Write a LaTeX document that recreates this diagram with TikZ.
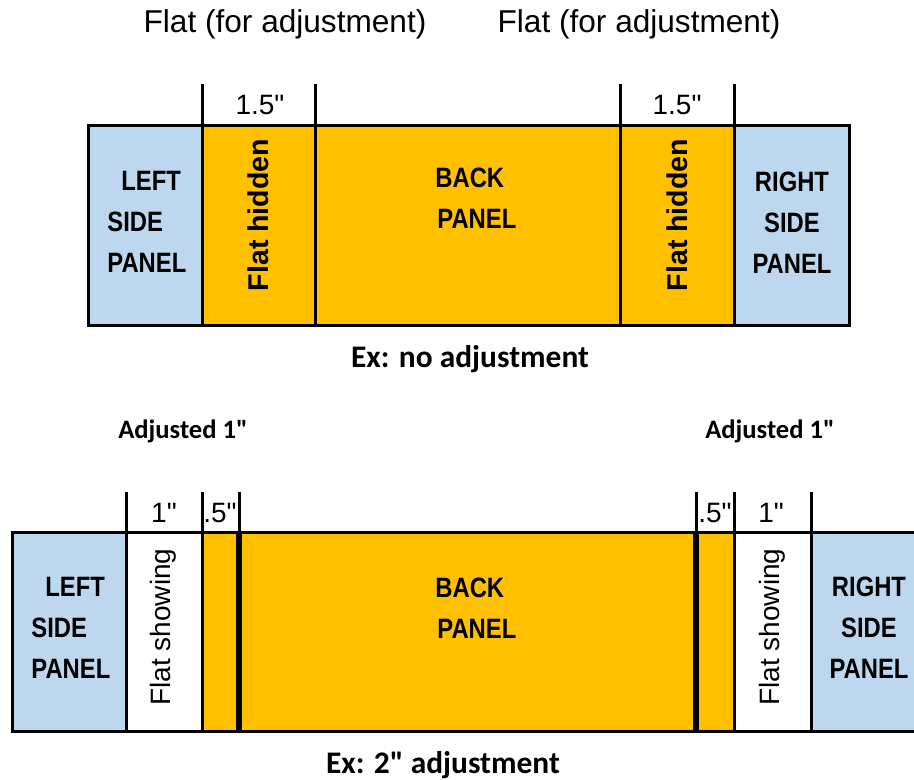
\documentclass[tikz,border=0pt]{standalone}
\usepackage{fontspec}
\newfontfamily\arial{Liberation Sans}
\newfontfamily\arialnarrow{Liberation Sans}[FakeStretch=0.85]
\newfontfamily\calibri{Carlito}
\definecolor{sideblue}{HTML}{BDD7EE}
\definecolor{flatorange}{HTML}{FFC000}
\tikzset{
  edge/.style={line width=1.5pt},
  thickedge/.style={line width=3pt},
  panelname/.style={font=\arialnarrow\bfseries\fontsize{14}{20.5}\selectfont, inner sep=0pt},
  dimlabel/.style={font=\arial\fontsize{14}{16}\selectfont, anchor=base, inner sep=0pt},
  flatlabel/.style={rotate=90, inner sep=0pt},
  caption/.style={font=\calibri\bfseries\fontsize{15.7}{18}\selectfont, anchor=base, inner sep=0pt},
}

\begin{document}
\begin{tikzpicture}[x=0.5pt, y=-0.5pt]
    \useasboundingbox (0,0) rectangle (914,780);

    % headings over the first example
    \node[font=\arial\fontsize{15.8}{18}\selectfont, anchor=base] (headl) at (285,33) {Flat (for adjustment)};
    \node[font=\arial\fontsize{15.8}{18}\selectfont, anchor=base] (headr) at (639,33) {Flat (for adjustment)};

    % first example: no adjustment
    \draw[edge, fill=sideblue] (88,126) rectangle (202,325);
    \draw[edge, fill=flatorange] (202,126) rectangle (315,325);
    \draw[edge, fill=flatorange] (315,126) rectangle (620,325);
    \draw[edge, fill=flatorange] (620,126) rectangle (734,325);
    \draw[edge, fill=sideblue] (734,126) rectangle (849,325);
    \foreach \x in {202,315,620,734}
        \draw[edge] (\x,84) -- (\x,126);

    \node[dimlabel] (dima1) at (260,115) {1.5"};
    \node[dimlabel] (dima2) at (677,115) {1.5"};

    \node[panelname, anchor=north west, align=left] (lefta) at (107,171) {\hspace*{7pt}LEFT\\SIDE\\PANEL};
    \node[panelname, anchor=north west, align=left] (backa) at (435,168) {BACK\\\hspace*{1pt}PANEL};
    \node[panelname, anchor=north, align=center] (righta) at (792,172) {RIGHT\\SIDE\\PANEL};
    \node[flatlabel, font=\arial\bfseries\fontsize{14.3}{16}\selectfont] (hida1) at (258,215) {Flat hidden};
    \node[flatlabel, font=\arial\bfseries\fontsize{14.3}{16}\selectfont] (hida2) at (677,215) {Flat hidden};

    \node[caption] (capa) at (470,367) {Ex: no adjustment};

    % second example: 2" adjustment
    \node[caption, font=\calibri\bfseries\fontsize{13.3}{15}\selectfont] (adjl) at (183,438) {Adjusted 1"};
    \node[caption, font=\calibri\bfseries\fontsize{13.3}{15}\selectfont] (adjr) at (770,438) {Adjusted 1"};

    \draw[edge, fill=sideblue] (12,532) rectangle (126,731);
    \draw[edge, fill=white] (126,532) rectangle (202,731);
    \draw[edge, fill=flatorange] (202,532) rectangle (239,731);
    \draw[edge, fill=flatorange] (239,532) rectangle (696,731);
    \draw[edge, fill=flatorange] (696,532) rectangle (734,731);
    \draw[edge, fill=white] (734,532) rectangle (811,731);
    \draw[edge, fill=sideblue] (811,532) rectangle (920,731);
    \draw[thickedge] (239,532) -- (239,731);
    \draw[thickedge] (696,532) -- (696,731);
    \foreach \x in {126,202,239,696,734,811}
        \draw[edge] (\x,492) -- (\x,532);

    \node[dimlabel] (dimb1) at (164,522) {1"};
    \node[dimlabel] (dimb2) at (220,522) {.5"};
    \node[dimlabel] (dimb3) at (715,522) {.5"};
    \node[dimlabel] (dimb4) at (771,522) {1"};

    \node[panelname, anchor=north west, align=left] (leftb) at (31,577) {\hspace*{7pt}LEFT\\SIDE\\PANEL};
    \node[panelname, anchor=north west, align=left] (backb) at (435,578) {BACK\\\hspace*{1pt}PANEL};
    \node[panelname, anchor=north, align=center] (rightb) at (869,577) {RIGHT\\SIDE\\PANEL};
    \node[flatlabel, font=\arial\fontsize{14}{16}\selectfont] (showb1) at (163,627) {Flat showing};
    \node[flatlabel, font=\arial\fontsize{14}{16}\selectfont] (showb2) at (772,627) {Flat showing};

    \node[caption] (capb) at (443,773) {Ex: 2" adjustment};
\end{tikzpicture}
\end{document}
